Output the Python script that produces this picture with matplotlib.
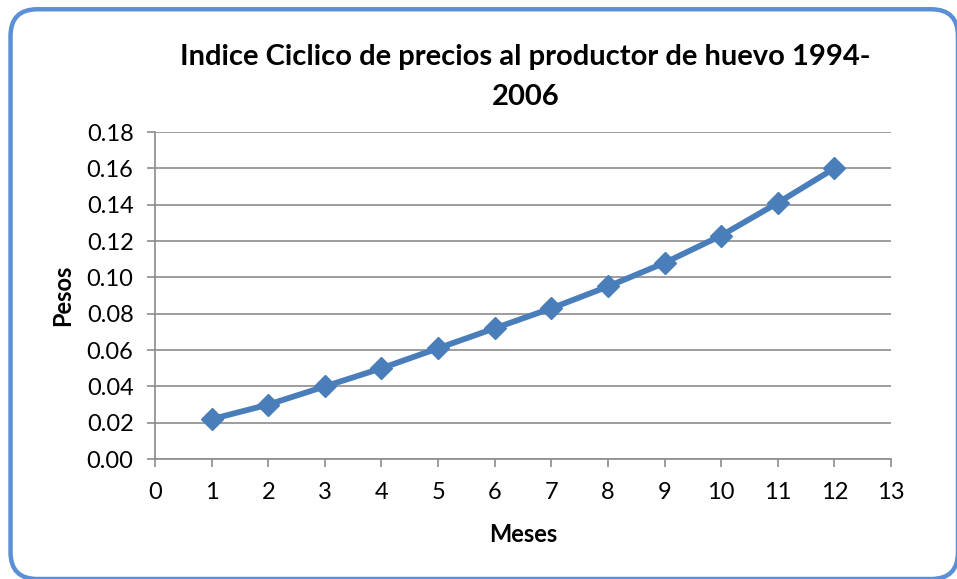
import matplotlib
matplotlib.use('Agg')
from matplotlib import pyplot
from matplotlib.patches import FancyBboxPatch

meses = [1, 2, 3, 4, 5, 6, 7, 8, 9, 10, 11, 12]
indice = [0.022, 0.030, 0.040, 0.050, 0.061, 0.072, 0.083, 0.095, 0.108, 0.123, 0.141, 0.160]
yticks = [0.00, 0.02, 0.04, 0.06, 0.08, 0.10, 0.12, 0.14, 0.16, 0.18]
xticks = list(range(0, 14))

pyplot.rcParams['font.family'] = ['Lato', 'DejaVu Sans']

fig = pyplot.figure(figsize=(9.57, 5.79), dpi=100)
ax = fig.add_axes([0.162, 0.207, 0.769, 0.565])

# marco redondeado tipo Excel (un poco recortado abajo y a la derecha)
marco = FancyBboxPatch((0.011, 0.0), 0.990, 0.984,
                       boxstyle='round,pad=0,rounding_size=0.028',
                       transform=fig.transFigure, facecolor='white',
                       edgecolor='#5B8FD6', linewidth=3.2, zorder=-1,
                       mutation_aspect=957 / 579)
fig.patches.append(marco)

ax.plot(meses, indice, color='#4A7EBB', linewidth=4.2, marker='D',
        markersize=11.5, zorder=3)

ax.set_xlim(0, 13)
ax.set_ylim(0, 0.18)
ax.set_xticks(xticks)
ax.set_yticks(yticks)
ax.set_yticklabels(['%.2f' % v for v in yticks])
ax.grid(axis='y', color='#8C8C8C', linewidth=1.2)
ax.set_axisbelow(True)
for lado in ['top', 'right']:
    ax.spines[lado].set_visible(False)
for lado in ['left', 'bottom']:
    ax.spines[lado].set_color('#8C8C8C')
    ax.spines[lado].set_linewidth(1.2)
ax.tick_params(axis='both', colors='#8C8C8C', length=5.5, width=1.2,
               labelcolor='black', labelsize=17)
ax.tick_params(axis='x', pad=11)
ax.tick_params(axis='y', pad=10)

fig.text(0.5465, 0.076, 'Meses', ha='center', va='center',
         fontsize=17, fontweight='bold')
fig.text(0.065, 0.4905, 'Pesos', ha='center', va='center', rotation=90,
         fontsize=17, fontweight='bold')
fig.text(0.549, 0.9016, 'Indice Ciclico de precios al productor de huevo 1994-',
         ha='center', va='center', fontsize=21, fontweight='bold')
fig.text(0.549, 0.8325, '2006', ha='center', va='center',
         fontsize=21, fontweight='bold')

fig.savefig('out.png', dpi=100)
